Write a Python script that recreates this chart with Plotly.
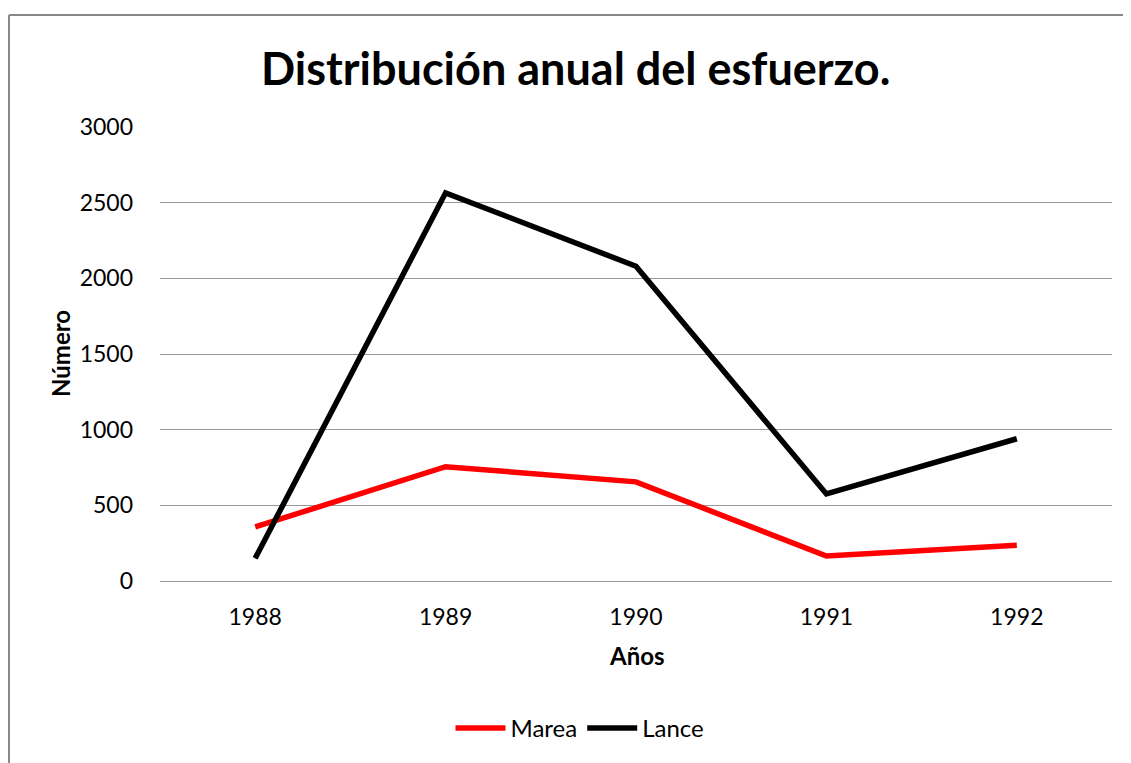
import plotly.graph_objects as go

years = ["1988", "1989", "1990", "1991", "1992"]
marea = [357, 755, 655, 165, 237]
lance = [150, 2565, 2080, 575, 940]
y_ticks = [0, 500, 1000, 1500, 2000, 2500, 3000]

FONT = "Lato"
OFF = 8  # page body margin
W, H = 1131 - OFF, 763 - OFF
L, R, T, B = 160 - OFF, 19, 127 - OFF, 180
PW, PH = W - L - R, H - T - B

def px(x):
    return (x - OFF - L) / PW

def py(y):
    return (H - B - (y - OFF)) / PH

fig = go.Figure()
fig.add_trace(go.Scatter(x=years, y=marea, name="Marea", mode="lines",
                         line=dict(color="#FF0000", width=5.5)))
fig.add_trace(go.Scatter(x=years, y=lance, name="Lance", mode="lines",
                         line=dict(color="#000000", width=5.5)))

fig.update_layout(
    width=W, height=H,
    margin=dict(l=L, r=R, t=T, b=B, pad=0),
    paper_bgcolor="white", plot_bgcolor="white",
    font=dict(family=FONT, size=23, color="#000000"),
    showlegend=True,
    legend=dict(orientation="h", x=px(580), xanchor="center", y=py(731), yanchor="middle",
                font=dict(size=24), itemwidth=50, bgcolor="rgba(0,0,0,0)"),
    xaxis=dict(type="category", range=[-0.5, 4.5], showgrid=False, zeroline=False,
               showline=False, ticks="", ticklabelstandoff=20,
               tickfont=dict(size=23)),
    yaxis=dict(range=[0, 3000], tickvals=y_ticks, showgrid=True, gridcolor="#999999",
               gridwidth=1, zeroline=True, zerolinecolor="#999999", zerolinewidth=1,
               showline=False, ticks="", ticklabelstandoff=26, tickfont=dict(size=23)),
    annotations=[
        dict(text="<b>Distribución anual del esfuerzo.</b>", x=px(575), y=py(68),
             xref="paper", yref="paper", showarrow=False, xanchor="center", yanchor="middle",
             font=dict(size=45, family=FONT)),
        dict(text="<b>Años</b>", x=px(637), y=py(658), xref="paper", yref="paper",
             showarrow=False, xanchor="center", yanchor="middle", font=dict(size=24, family=FONT)),
        dict(text="<b>Número</b>", x=px(60), y=py(355), xref="paper", yref="paper",
             showarrow=False, xanchor="center", yanchor="middle", textangle=-90,
             font=dict(size=24, family=FONT)),
    ],
    shapes=[
        dict(type="line", xref="paper", yref="paper", x0=px(OFF + 1), x1=px(1140),
             y0=py(14.5), y1=py(14.5), line=dict(color="#888888", width=2)),
        dict(type="line", xref="paper", yref="paper", x0=px(OFF + 1), x1=px(OFF + 1),
             y0=py(14.5), y1=py(770), line=dict(color="#888888", width=2)),
    ],
)

fig.write_html("out.html")
